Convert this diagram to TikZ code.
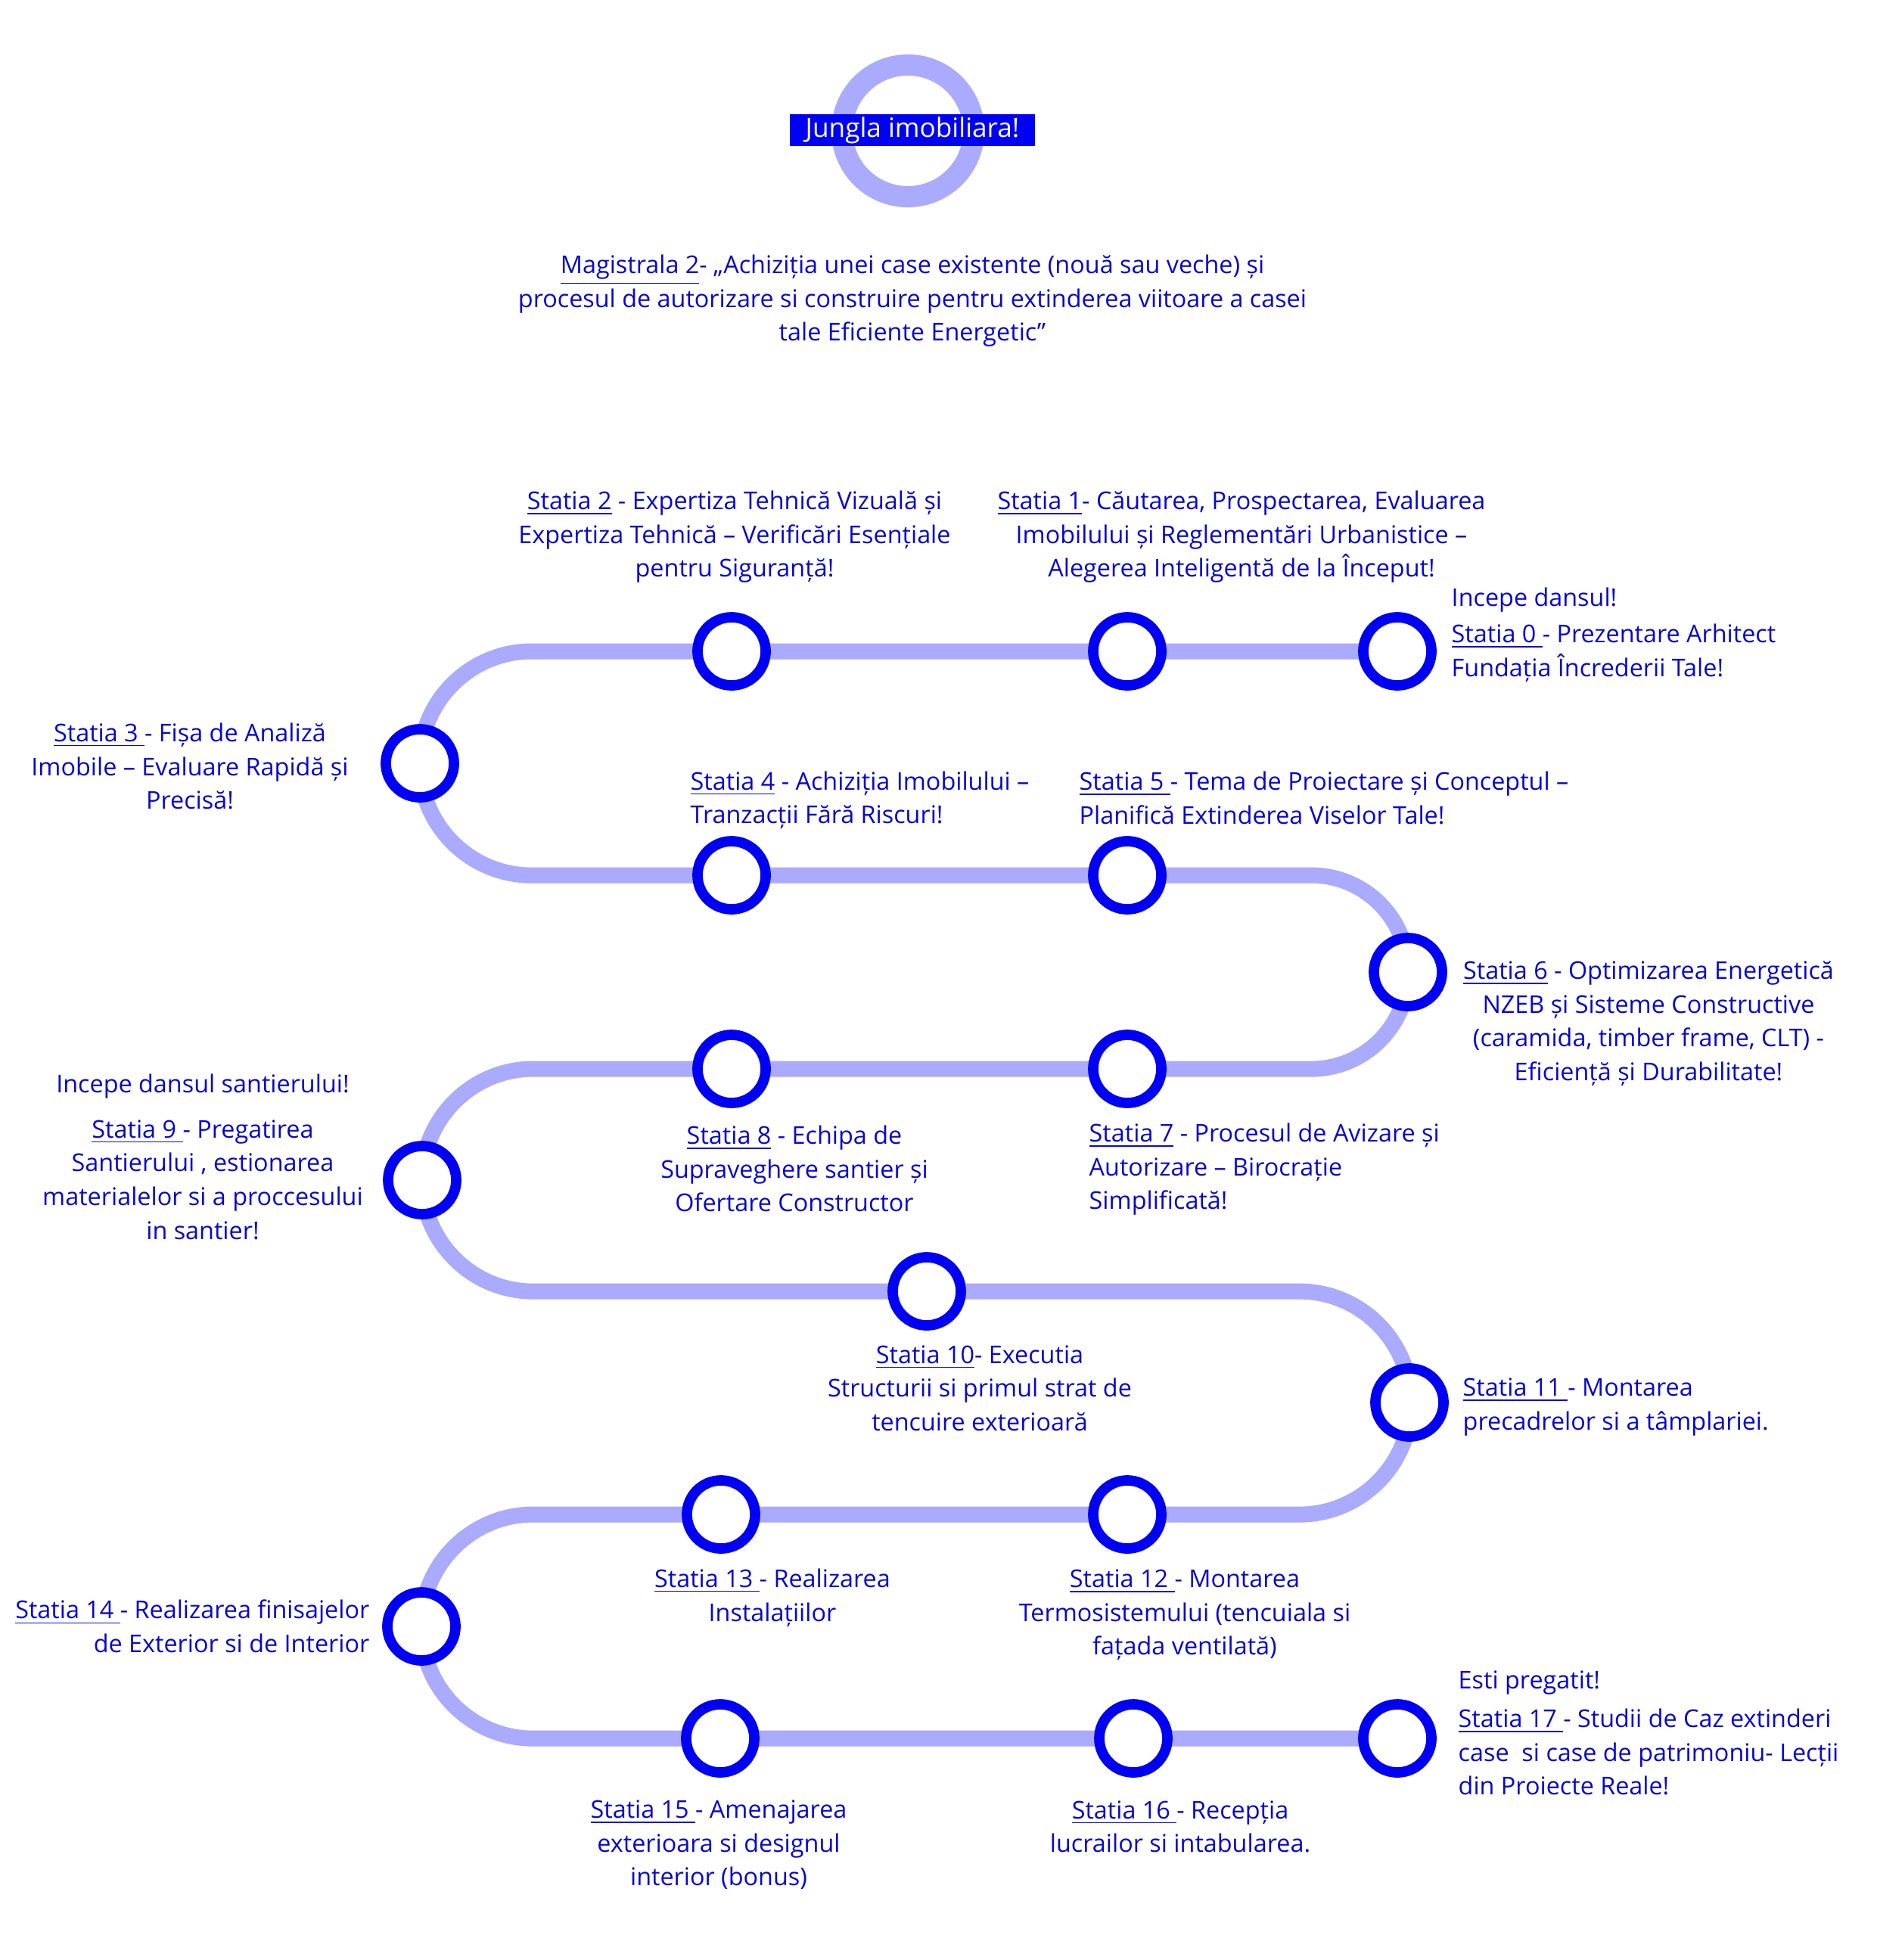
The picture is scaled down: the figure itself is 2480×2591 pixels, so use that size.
\documentclass[tikz,border=0pt]{standalone}
\usepackage{fontspec}
\setmainfont{Open Sans}
\usepackage{tikz}
\definecolor{linie}{RGB}{170,170,255}
\definecolor{inel}{RGB}{0,0,245}
\definecolor{textalb}{RGB}{8,8,205}
\tikzset{
  track/.style={line width=5.97pt, draw=linie},
  statie/.style={circle, draw=inel, line width=3.9pt, fill=white, minimum size=0.9cm, inner sep=0pt},
  lbl/.style={text=textalb, font=\fontsize{9.2pt}{12.66pt}\selectfont, inner sep=0pt, align=center}
}
\newcommand{\statie}[2]{\node[statie] (#1) at (#2) {};}
\newcommand{\st}[1]{\underline{#1}}

\begin{document}
\begin{tikzpicture}[x=0.01cm, y=0.01cm]
        \fill[white] (0,0) rectangle (2480,-2591);
        % logo
        \node[circle, draw=linie, line width=7.97pt, minimum size=1.74cm] (logo) at (1200,-173) {};
        \node[fill=inel, text=white, font=\fontsize{10pt}{12.66pt}\selectfont, minimum width=3.23cm, minimum height=0.41cm, inner sep=0pt] (jungla) at (1206,-172) {Jungla imobiliara!};
        \node[lbl] (titlu) at (1206,-398) {\st{Magistrala 2}- „Achiziția unei case existente (nouă sau veche) și\\procesul de autorizare si construire pentru extinderea viitoare a casei\\tale Eficiente Energetic”};
        % statii
        \coordinate (c0) at (1847,-861);
        \coordinate (c1) at (1490,-861);
        \coordinate (c2) at (967,-861);
        \coordinate (c3) at (555,-1009);
        \coordinate (c4) at (967,-1157);
        \coordinate (c5) at (1490,-1157);
        \coordinate (c6) at (1861,-1285);
        \coordinate (c7) at (1490,-1413);
        \coordinate (c8) at (967,-1413);
        \coordinate (c9) at (558,-1560);
        \coordinate (c10) at (1225,-1707);
        \coordinate (c11) at (1863,-1854);
        \coordinate (c12) at (1490,-2002);
        \coordinate (c13) at (953,-2002);
        \coordinate (c14) at (557,-2150);
        \coordinate (c15) at (952,-2298);
        \coordinate (c16) at (1498,-2298);
        \coordinate (c17) at (1847,-2298);
        % linia
        \draw[track] (c0) -- (c1) -- (c2) -- (703,-861) arc[start angle=90, end angle=270, radius=1.48cm]
            -- (c4) -- (c5) -- (1733,-1157) arc[start angle=90, end angle=-90, radius=1.28cm]
            -- (c7) -- (c8) -- (705,-1413) arc[start angle=90, end angle=270, radius=1.47cm]
            -- (c10) -- (1717,-1707) arc[start angle=90, end angle=-90, radius=1.475cm]
            -- (c12) -- (c13) -- (705,-2002) arc[start angle=90, end angle=270, radius=1.48cm]
            -- (c15) -- (c16) -- (c17);
        \foreach \i in {0,...,17}{\statie{s\i}{c\i}}
        % row 1
        \node[lbl] (t2) at (971,-710) {\st{Statia 2} - Expertiza Tehnică Vizuală și\\Expertiza Tehnică – Verificări Esențiale\\pentru Siguranță!};
        \node[lbl] (t1) at (1641,-710) {\st{Statia 1}- Căutarea, Prospectarea, Evaluarea\\Imobilului și Reglementări Urbanistice –\\Alegerea Inteligentă de la Început!};
        \node[lbl, anchor=west, align=left] (t0) at (1918,-839) {Incepe dansul!\\[1.2pt]\st{Statia 0 }- Prezentare Arhitect\\Fundația Încrederii Tale!};
        % row 2
        \node[lbl] (t3) at (251,-1013) {\st{Statia 3 }- Fișa de Analiză\\Imobile – Evaluare Rapidă și\\Precisă!};
        \node[lbl, anchor=west, align=left] (t4) at (912,-1058) {\st{Statia 4} - Achiziția Imobilului –\\Tranzacții Fără Riscuri!};
        \node[lbl, anchor=west, align=left] (t5) at (1426,-1055) {\st{Statia 5 }- Tema de Proiectare și Conceptul –\\Planifică Extinderea Viselor Tale!};
        \node[lbl] (t6) at (2179,-1353) {\st{Statia 6} - Optimizarea Energetică\\NZEB și Sisteme Constructive\\(caramida, timber frame, CLT) -\\Eficiență și Durabilitate!};
        % row 3
        \node[lbl, anchor=west, align=left] (t7) at (1439,-1546) {\st{Statia 7} - Procesul de Avizare și\\Autorizare – Birocrație\\Simplificată!};
        \node[lbl] (t8) at (1050,-1545) {\st{Statia 8} - Echipa de\\Supraveghere santier și\\Ofertare Constructor};
        \node[lbl] (t9) at (268,-1529) {Incepe dansul santierului!\\[4.5pt]\st{Statia 9 }- Pregatirea\\Santierului , estionarea\\materialelor si a proccesului\\in santier!};
        % row 4
        \node[lbl] (t10) at (1295,-1835) {\st{Statia 10}- Executia\\Structurii si primul strat de\\tencuire exterioară};
        \node[lbl, anchor=west, align=left] (t11) at (1933,-1860) {\st{Statia 11 }- Montarea\\precadrelor si a tâmplariei.};
        % row 5
        \node[lbl] (t12) at (1566,-2135) {\st{Statia 12 }- Montarea\\Termosistemului (tencuiala si\\fațada ventilată)};
        \node[lbl] (t13) at (1021,-2112) {\st{Statia 13 }- Realizarea\\Instalațiilor};
        \node[lbl, anchor=east, align=right] (t14) at (489,-2150) {\st{Statia 14 }- Realizarea finisajelor\\de Exterior si de Interior};
        % row 6
        \node[lbl] (t15) at (950,-2439) {\st{Statia 15 }- Amenajarea\\exterioara si designul\\interior (bonus)};
        \node[lbl] (t16) at (1560,-2415) {\st{Statia 16 }- Recepția\\lucrailor si intabularea.};
        \node[lbl, anchor=west, align=left] (t17) at (1927,-2291) {Esti pregatit!\\[2pt]\st{Statia 17 }- Studii de Caz extinderi\\case\ \ si case de patrimoniu- Lecții\\din Proiecte Reale!};
    \end{tikzpicture}
\end{document}
